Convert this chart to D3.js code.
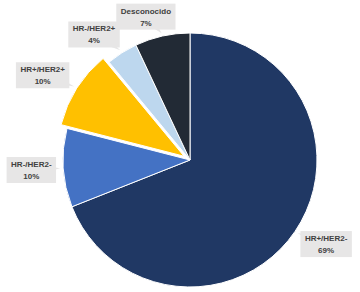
<!DOCTYPE html>
<html>
<head>
<meta charset="utf-8">
<script src="https://cdn.jsdelivr.net/npm/d3@7"></script>
<style>
  body { margin: 0; background: #fff; }
  text { font-family: "Liberation Sans", Arial, sans-serif; font-weight: bold; }
</style>
</head>
<body>
<div id="chart"></div>
<script>
const categories = ["HR+/HER2-", "HR-/HER2-", "HR+/HER2+", "HR-/HER2+", "Desconocido"];
const values = [69, 10, 10, 4, 7];
const colors = ["#203864", "#4472C4", "#FFC000", "#BDD7EE", "#222A35"];
const exploded = [false, false, true, false, false];

const width = 360, height = 292;
const cx = 190, cy = 160, radius = 127;
// distance of each label box centre from pie centre
const labelDist = [160, 159, 170, 158, 150];
const labelTurn = [-2.5, 0, -2.5, -5, -4.5]; // degrees

let svg = d3.select("#chart").append("svg")
    .attr("width", width)
    .attr("height", height);

let g = svg.append("g").attr("transform", `translate(${cx},${cy})`);

const pie = d3.pie().sort(null).value(d => d);
const arcs = pie(values);
const arc = d3.arc().innerRadius(0).outerRadius(radius);

const polar = (a, r) => [Math.sin(a) * r, -Math.cos(a) * r];

g.selectAll(".slice")
    .data(arcs)
    .enter().append("path")
    .attr("class", "slice")
    .attr("d", arc)
    .attr("fill", (d, i) => colors[i])
    .attr("stroke", "#fff")
    .attr("stroke-width", 1)
    .attr("transform", (d, i) => {
        if (!exploded[i]) return null;
        const p = polar((d.startAngle + d.endAngle) / 2, 7);
        return `translate(${p[0]},${p[1]})`;
    });

// callout labels
arcs.forEach((d, i) => {
    const mid = (d.startAngle + d.endAngle) / 2;
    const la = mid + labelTurn[i] * Math.PI / 180;
    const c = polar(la, labelDist[i]);
    const lab = g.append("g");
    const t1 = lab.append("text")
        .attr("x", c[0]).attr("y", c[1] - 3)
        .attr("text-anchor", "middle")
        .attr("font-size", 8)
        .attr("fill", "#404040")
        .text(categories[i]);
    const t2 = lab.append("text")
        .attr("x", c[0]).attr("y", c[1] + 9)
        .attr("text-anchor", "middle")
        .attr("font-size", 8)
        .attr("fill", "#404040")
        .text(values[i] + "%");
    const w = Math.max(t1.node().getComputedTextLength(), t2.node().getComputedTextLength()) + 9;
    const h = 26;
    const off = exploded[i] ? 7 : 0;
    const tip = polar(mid, radius + 3 + off);
    // wedge from box toward slice
    const dx = tip[0] - c[0], dy = tip[1] - c[1];
    const len = Math.hypot(dx, dy);
    const nx = -dy / len * 6, ny = dx / len * 6;
    lab.insert("path", "text")
        .attr("d", `M${c[0] + nx},${c[1] + ny}L${tip[0]},${tip[1]}L${c[0] - nx},${c[1] - ny}Z`)
        .attr("fill", "#E7E6E6");
    lab.insert("rect", "text")
        .attr("x", c[0] - w / 2).attr("y", c[1] - h / 2)
        .attr("width", w).attr("height", h)
        .attr("fill", "#E7E6E6");
});
</script>
</body>
</html>
